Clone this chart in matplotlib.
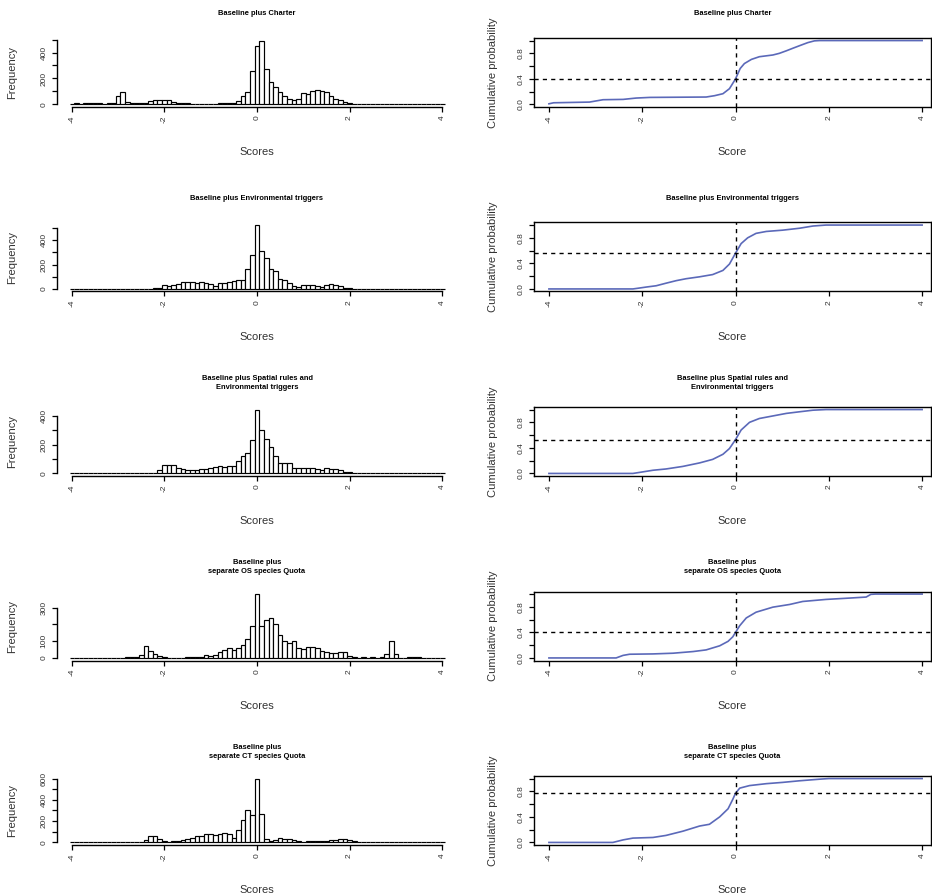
import matplotlib
matplotlib.use('Agg')
import matplotlib.pyplot as plt
import numpy as np

plt.rcParams['font.family'] = ['Liberation Sans', 'DejaVu Sans']
plt.rcParams['axes.unicode_minus'] = False

titles = [
    'Baseline plus Charter',
    'Baseline plus Environmental triggers',
    'Baseline plus Spatial rules and\nEnvironmental triggers',
    'Baseline plus\nseparate OS species Quota',
    'Baseline plus\nseparate CT species Quota',
]

# histogram bins, 0.1 wide, centred on -4.0 ... 4.0
bin_centers = np.round(np.arange(-40, 41) * 0.1, 1)

charter_counts = [
    6, 8, 0, 8, 8, 8, 8, 0, 8, 10,
    66, 92, 15, 8, 8, 8, 8, 26, 37, 37,
    32, 32, 18, 8, 8, 8, 0, 6, 6, 0,
    0, 0, 8, 8, 8, 10, 26, 66, 97, 255,
    453, 492, 274, 171, 137, 97, 63, 45, 37, 45,
    89, 79, 105, 110, 105, 92, 63, 45, 32, 16,
    8, 0, 0, 0, 0, 0, 0, 0, 0, 0,
    0, 0, 0, 0, 0, 0, 0, 0, 0, 0,
    0,
]
env_counts = [
    0, 0, 0, 0, 0, 0, 0, 0, 0, 0,
    0, 0, 0, 0, 0, 0, 0, 3, 5, 8,
    30, 25, 35, 42, 55, 60, 55, 47, 53, 50,
    42, 28, 45, 47, 55, 65, 75, 70, 165, 280,
    525, 315, 255, 160, 145, 85, 70, 45, 28, 12,
    30, 30, 30, 28, 20, 33, 38, 33, 28, 8,
    8, 3, 0, 0, 0, 0, 0, 0, 0, 0,
    0, 0, 0, 0, 0, 0, 0, 0, 0, 0,
    0,
]
spatial_counts = [
    0, 0, 0, 0, 0, 0, 0, 0, 0, 0,
    0, 0, 0, 0, 0, 0, 0, 0, 5, 24,
    59, 59, 55, 40, 30, 24, 24, 24, 28, 31,
    35, 47, 50, 47, 50, 52, 87, 118, 141, 230,
    442, 299, 235, 181, 118, 71, 71, 71, 40, 40,
    35, 40, 35, 28, 24, 35, 30, 28, 24, 12,
    8, 4, 0, 0, 0, 0, 0, 0, 0, 0,
    0, 0, 0, 0, 0, 0, 0, 0, 0, 0,
    0,
]
os_counts = [
    0, 0, 0, 0, 0, 0, 0, 0, 0, 0,
    0, 0, 3, 3, 5, 16, 72, 43, 23, 10,
    6, 0, 0, 0, 0, 5, 5, 5, 5, 16,
    10, 16, 33, 47, 57, 47, 62, 78, 115, 191,
    382, 191, 226, 238, 201, 140, 99, 88, 99, 57,
    53, 68, 64, 57, 41, 33, 27, 31, 33, 33,
    12, 6, 0, 3, 0, 3, 0, 5, 23, 100,
    23, 0, 0, 3, 3, 3, 0, 0, 0, 0,
    0,
]
ct_counts = [
    0, 0, 0, 0, 0, 0, 0, 0, 0, 0,
    0, 3, 3, 3, 3, 5, 22, 60, 60, 32,
    13, 6, 10, 13, 19, 29, 38, 60, 63, 76,
    76, 73, 76, 89, 76, 44, 117, 213, 305, 257,
    600, 267, 32, 13, 22, 38, 32, 35, 19, 10,
    8, 10, 13, 10, 13, 10, 19, 25, 35, 32,
    25, 10, 3, 0, 0, 0, 0, 0, 0, 0,
    0, 0, 0, 0, 0, 0, 0, 0, 0, 0,
    0,
]
hist_counts = [charter_counts, env_counts, spatial_counts, os_counts, ct_counts]

# frequency axis: top tick and the labels R kept
freq_top = [500, 500, 400, 300, 600]
freq_labels = [
    ['0', '', '200', '', '400', ''],
    ['0', '', '200', '', '400', ''],
    ['0', '', '200', '', '400'],
    ['0', '100', '', '300'],
    ['0', '', '200', '', '400', '', '600'],
]

# cumulative probability curves (score, probability)
charter_ecdf_x = [-4.0, -3.9, -3.13, -2.84, -2.41, -2.13, -1.84, -0.63, -0.45, -0.27, -0.13,
                  0.0, 0.1, 0.19, 0.34, 0.51, 0.8, 0.94, 1.09, 1.23, 1.41, 1.55, 1.69, 1.8, 4.0]
charter_ecdf_p = [0.01, 0.026, 0.037, 0.074, 0.079, 0.10, 0.11, 0.116, 0.137, 0.168, 0.247,
                  0.40, 0.563, 0.64, 0.705, 0.747, 0.774, 0.80, 0.84, 0.88, 0.93, 0.968, 0.995, 1.0, 1.0]
env_ecdf_x = [-4.0, -2.2, -2.1, -1.91, -1.7, -1.49, -1.27, -1.06, -0.77, -0.49, -0.27, -0.13,
              0.0, 0.12, 0.26, 0.44, 0.66, 1.01, 1.37, 1.66, 1.94, 4.0]
env_ecdf_p = [0.0, 0.0, 0.01, 0.03, 0.05, 0.09, 0.13, 0.16, 0.19, 0.225, 0.29, 0.39,
              0.56, 0.71, 0.80, 0.87, 0.90, 0.92, 0.95, 0.985, 1.0, 1.0]
spatial_ecdf_x = [-4.0, -2.2, -2.06, -1.77, -1.49, -1.13, -0.77, -0.49, -0.27, -0.13,
                  0.0, 0.12, 0.3, 0.51, 0.8, 1.09, 1.37, 1.66, 1.94, 4.0]
spatial_ecdf_p = [0.0, 0.0, 0.016, 0.05, 0.07, 0.11, 0.165, 0.22, 0.30, 0.39,
                  0.53, 0.68, 0.80, 0.86, 0.90, 0.94, 0.965, 0.99, 1.0, 1.0]
os_ecdf_x = [-4.0, -2.56, -2.41, -2.27, -1.77, -1.34, -0.91, -0.63, -0.34, -0.16, -0.06,
             0.0, 0.09, 0.23, 0.44, 0.8, 1.16, 1.44, 1.94, 2.44, 2.8, 2.9, 3.0, 4.0]
os_ecdf_p = [0.0, 0.0, 0.04, 0.058, 0.063, 0.074, 0.10, 0.126, 0.19, 0.26, 0.33,
             0.40, 0.505, 0.626, 0.716, 0.795, 0.837, 0.884, 0.916, 0.937, 0.953, 0.995, 1.0, 1.0]
ct_ecdf_x = [-4.0, -2.63, -2.41, -2.2, -1.77, -1.49, -1.13, -0.77, -0.56, -0.34, -0.16, -0.06,
             0.0, 0.09, 0.3, 0.66, 1.01, 1.37, 1.8, 2.0, 4.0]
ct_ecdf_p = [0.0, 0.0, 0.04, 0.068, 0.078, 0.11, 0.176, 0.257, 0.284, 0.40, 0.527, 0.673,
             0.77, 0.85, 0.89, 0.92, 0.94, 0.965, 0.99, 1.0, 1.0]
ecdf_x = [charter_ecdf_x, env_ecdf_x, spatial_ecdf_x, os_ecdf_x, ct_ecdf_x]
ecdf_p = [charter_ecdf_p, env_ecdf_p, spatial_ecdf_p, os_ecdf_p, ct_ecdf_p]

score_ticks = [-4, -2, 0, 2, 4]
prob_ticks = [0, 0.2, 0.4, 0.6, 0.8, 1.0]
prob_labels = ['0.0', '', '0.4', '', '0.8', '']

W, H = 932, 896
fig = plt.figure(figsize=(W / 100, H / 100), dpi=100)
txt = '#333333'


def px_axes(x0, y0, w, h):
    return fig.add_axes([x0 / W, 1 - (y0 + h) / H, w / W, h / H])


def style(ax):
    ax.tick_params(direction='out', length=3.6, width=0.9, labelsize=6,
                   colors='black', labelcolor=txt)
    ax.tick_params(axis='y', pad=3)
    ax.tick_params(axis='x', pad=2.5)
    for t in ax.get_xticklabels():
        t.set_rotation(90)
    for t in ax.get_yticklabels():
        t.set_rotation(90)
        t.set_va('center')


def labels(ax, title, xlab, ylab, ylab_off):
    ax.annotate(title, xy=(0.5, 1), xycoords='axes fraction', xytext=(0, 17.5),
                textcoords='offset points', ha='center', va='center',
                fontsize=5.4, fontweight='bold', linespacing=1.45)
    ax.annotate(xlab, xy=(0.5, 0), xycoords='axes fraction', xytext=(0, -32.5),
                textcoords='offset points', ha='center', va='center',
                fontsize=8, color=txt)
    ax.annotate(ylab, xy=(0, 0.5), xycoords='axes fraction', xytext=(-ylab_off, 0),
                textcoords='offset points', ha='center', va='center',
                fontsize=8, color=txt, rotation=90)


for i in range(5):
    top = 38 + 184.5 * i

    # histogram of scores
    ax = px_axes(57, top, 400, 69)
    counts = hist_counts[i]
    m = max(counts)
    ax.bar(bin_centers, counts, width=0.1, color='white', edgecolor='black', linewidth=0.85)
    ax.set_xlim(-4.32, 4.32)
    ax.set_ylim(-0.04 * m, 1.04 * m)
    ax.set_xticks(score_ticks)
    ax.set_xticklabels([str(v) for v in score_ticks])
    yt = list(range(0, freq_top[i] + 1, 100))
    ax.set_yticks(yt)
    ax.set_yticklabels(freq_labels[i])
    for s in ['top', 'right']:
        ax.spines[s].set_visible(False)
    ax.spines['left'].set_bounds(0, freq_top[i])
    ax.spines['bottom'].set_bounds(-4, 4)
    for s in ['left', 'bottom']:
        ax.spines[s].set_linewidth(1.0)
    style(ax)
    labels(ax, titles[i], 'Scores', 'Frequency', 32.5)

    # cumulative distribution of scores
    ax = px_axes(534, top, 397, 69)
    x = ecdf_x[i]
    p = ecdf_p[i]
    ax.plot(x, p, color='#5b69b9', linewidth=1.2)
    ax.axvline(0, color='black', linewidth=1.0, linestyle=(0, (3, 3)))
    ax.axhline(np.interp(0, x, p), color='black', linewidth=1.0, linestyle=(0, (3, 3)))
    ax.set_xlim(-4.32, 4.19)
    ax.set_ylim(-0.04, 1.04)
    ax.set_xticks(score_ticks)
    ax.set_xticklabels([str(v) for v in score_ticks])
    ax.set_yticks(prob_ticks)
    ax.set_yticklabels(prob_labels)
    for s in ax.spines.values():
        s.set_linewidth(1.0)
    style(ax)
    labels(ax, titles[i], 'Score', 'Cumulative probability', 29.5)

fig.savefig('out.png', dpi=100)
